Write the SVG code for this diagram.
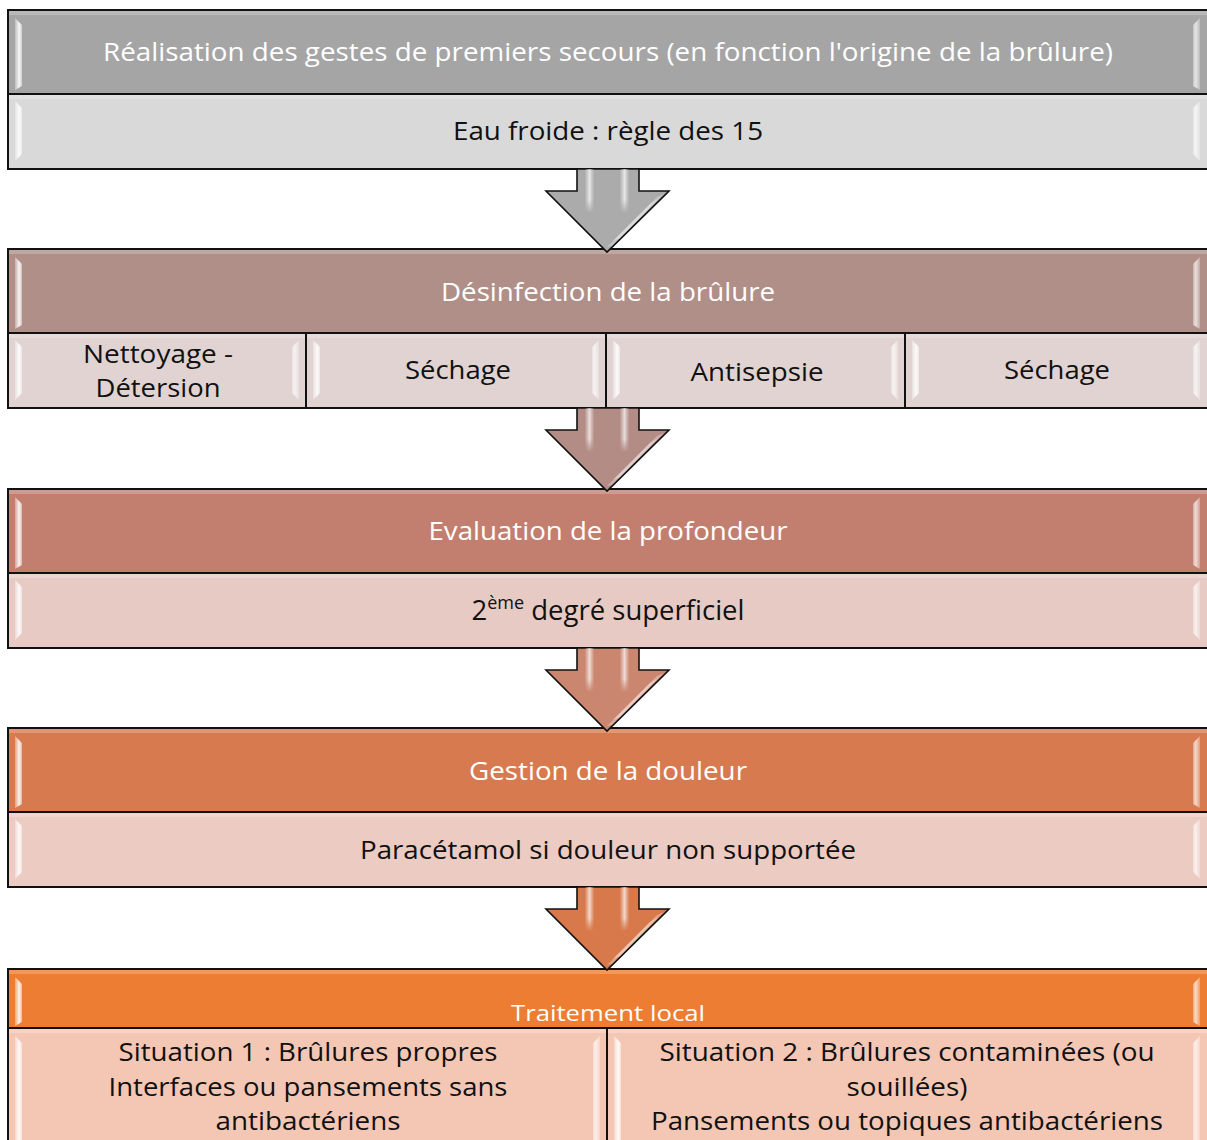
<svg xmlns="http://www.w3.org/2000/svg" xmlns:xlink="http://www.w3.org/1999/xlink" width="1207" height="1140" viewBox="0 0 1207 1140">
<style>
  text { font-family: "Open Sans", "Noto Sans", "DejaVu Sans", sans-serif; text-anchor: middle; }
  .hd { fill: #ffffff; font-size: 25px; }
  .sb { fill: #111111; font-size: 25px; }
  .box { stroke: #111111; stroke-width: 2; }
  .arrow { stroke: #111111; stroke-width: 1.6; stroke-linejoin: miter; }
  .hl { fill: url(#bevL); }
  .hr { fill: url(#bevR); opacity: 0.8; }
  .top { fill: #ffffff; opacity: 0.22; }
</style>
<defs>
  <linearGradient id="bevL" x1="0" y1="0" x2="1" y2="0">
    <stop offset="0" stop-color="#ffffff" stop-opacity="0.3"/>
    <stop offset="0.6" stop-color="#ffffff" stop-opacity="0.9"/>
    <stop offset="1" stop-color="#ffffff" stop-opacity="0.45"/>
  </linearGradient>
  <linearGradient id="bevR" x1="1" y1="0" x2="0" y2="0">
    <stop offset="0" stop-color="#ffffff" stop-opacity="0.3"/>
    <stop offset="0.6" stop-color="#ffffff" stop-opacity="0.9"/>
    <stop offset="1" stop-color="#ffffff" stop-opacity="0.45"/>
  </linearGradient>
  <linearGradient id="stripe" x1="0" y1="0" x2="1" y2="0">
    <stop offset="0" stop-color="#ffffff" stop-opacity="0.05"/>
    <stop offset="0.5" stop-color="#ffffff" stop-opacity="0.7"/>
    <stop offset="1" stop-color="#ffffff" stop-opacity="0.05"/>
  </linearGradient>
  <linearGradient id="stripeV" x1="0" y1="0" x2="0" y2="1">
    <stop offset="0" stop-color="#ffffff" stop-opacity="1"/>
    <stop offset="0.7" stop-color="#ffffff" stop-opacity="1"/>
    <stop offset="1" stop-color="#ffffff" stop-opacity="0"/>
  </linearGradient>
  <mask id="fadeMask">
    <rect x="0" y="0" width="1207" height="44" fill="url(#stripeV)"/>
  </mask>
  <g id="arr">
    <path class="arrow" d="M577,0 V22 H546 L607,83 L669,22 H639 V0 Z"/>
    <g mask="url(#fadeMask)">
      <rect x="585" y="0" width="9" height="44" fill="url(#stripe)"/>
      <rect x="620" y="0" width="9" height="44" fill="url(#stripe)"/>
    </g>
    <path d="M657,28 L664,25 L612,77 L607,78 Z" fill="#ffffff" opacity="0.3"/>
    <path d="M650,35 L658,30 L620,69 L613,72 Z" fill="#ffffff" opacity="0.4"/>
  </g>
</defs>

<!-- Stage 1 -->
<g id="stage1">
  <g id="s1-header">
    <rect class="box" x="8" y="10" width="1210" height="84" fill="#a5a5a5"/>
    <rect class="top" x="9" y="11" width="1208" height="4"/>
    <path class="hl" d="M15,18 L22,25 L22,86 L15,90 Z"/>
    <path class="hr" d="M1200,18 L1193,25 L1193,86 L1200,90 Z"/>
    <text class="hd" x="608" y="61" textLength="1010" lengthAdjust="spacingAndGlyphs">Réalisation des gestes de premiers secours (en fonction l'origine de la brûlure)</text>
  </g>
  <g id="s1-sub">
    <rect class="box" x="8" y="94" width="1210" height="75" fill="#d9d9d9"/>
    <rect class="top" x="9" y="95" width="1208" height="4"/>
    <path class="hl" d="M15,101 L22,108 L22,154 L15,161 Z"/>
    <path class="hr" d="M1200,101 L1193,108 L1193,154 L1200,161 Z"/>
    <text class="sb" x="608" y="140" textLength="310" lengthAdjust="spacingAndGlyphs">Eau froide : règle des 15</text>
  </g>
</g>

<!-- Stage 2 -->
<g id="stage2">
  <g id="s2-header">
    <rect class="box" x="8" y="249" width="1210" height="84" fill="#b08f88"/>
    <rect class="top" x="9" y="250" width="1208" height="4"/>
    <path class="hl" d="M15,257 L22,264 L22,325 L15,329 Z"/>
    <path class="hr" d="M1200,257 L1193,264 L1193,325 L1200,329 Z"/>
    <text class="hd" x="608" y="301" textLength="334" lengthAdjust="spacingAndGlyphs">Désinfection de la brûlure</text>
  </g>
  <g id="s2-cell1">
    <rect class="box" x="8" y="333" width="298" height="75" fill="#e0d3d2"/>
    <rect class="top" x="9" y="334" width="296" height="4"/>
    <path class="hl" d="M15,340 L22,347 L22,393 L15,400 Z"/>
    <path class="hr" d="M299,340 L292,347 L292,393 L299,400 Z"/>
    <text class="sb" x="158" y="363" textLength="150" lengthAdjust="spacingAndGlyphs">Nettoyage -</text>
    <text class="sb" x="158" y="397" textLength="125" lengthAdjust="spacingAndGlyphs">Détersion</text>
  </g>
  <g id="s2-cell2">
    <rect class="box" x="306" y="333" width="300" height="75" fill="#e0d3d2"/>
    <rect class="top" x="307" y="334" width="298" height="4"/>
    <path class="hl" d="M313,340 L320,347 L320,393 L313,400 Z"/>
    <path class="hr" d="M599,340 L592,347 L592,393 L599,400 Z"/>
    <text class="sb" x="458" y="379" textLength="106" lengthAdjust="spacingAndGlyphs">Séchage</text>
  </g>
  <g id="s2-cell3">
    <rect class="box" x="606" y="333" width="299" height="75" fill="#e0d3d2"/>
    <rect class="top" x="607" y="334" width="297" height="4"/>
    <path class="hl" d="M613,340 L620,347 L620,393 L613,400 Z"/>
    <path class="hr" d="M898,340 L891,347 L891,393 L898,400 Z"/>
    <text class="sb" x="757" y="381" textLength="133" lengthAdjust="spacingAndGlyphs">Antisepsie</text>
  </g>
  <g id="s2-cell4">
    <rect class="box" x="905" y="333" width="313" height="75" fill="#e0d3d2"/>
    <rect class="top" x="906" y="334" width="311" height="4"/>
    <path class="hl" d="M912,340 L919,347 L919,393 L912,400 Z"/>
    <path class="hr" d="M1200,340 L1193,347 L1193,393 L1200,400 Z"/>
    <text class="sb" x="1057" y="379" textLength="106" lengthAdjust="spacingAndGlyphs">Séchage</text>
  </g>
</g>

<!-- Stage 3 -->
<g id="stage3">
  <g id="s3-header">
    <rect class="box" x="8" y="489" width="1210" height="84" fill="#c27f6f"/>
    <rect class="top" x="9" y="490" width="1208" height="4"/>
    <path class="hl" d="M15,497 L22,504 L22,565 L15,569 Z"/>
    <path class="hr" d="M1200,497 L1193,504 L1193,565 L1200,569 Z"/>
    <text class="hd" x="608" y="540" textLength="359" lengthAdjust="spacingAndGlyphs">Evaluation de la profondeur</text>
  </g>
  <g id="s3-sub">
    <rect class="box" x="8" y="573" width="1210" height="75" fill="#e8cac5"/>
    <rect class="top" x="9" y="574" width="1208" height="4"/>
    <path class="hl" d="M15,580 L22,587 L22,633 L15,640 Z"/>
    <path class="hr" d="M1200,580 L1193,587 L1193,633 L1200,640 Z"/>
    <text class="sb" x="608" y="620" style="font-size:27.5px">2<tspan style="font-size:18px" dy="-11">ème</tspan><tspan dy="11"> degré superficiel</tspan></text>
  </g>
</g>

<!-- Stage 4 -->
<g id="stage4">
  <g id="s4-header">
    <rect class="box" x="8" y="728" width="1210" height="84" fill="#d77a4f"/>
    <rect class="top" x="9" y="729" width="1208" height="4"/>
    <path class="hl" d="M15,736 L22,743 L22,804 L15,808 Z"/>
    <path class="hr" d="M1200,736 L1193,743 L1193,804 L1200,808 Z"/>
    <text class="hd" x="608" y="780" textLength="278" lengthAdjust="spacingAndGlyphs">Gestion de la douleur</text>
  </g>
  <g id="s4-sub">
    <rect class="box" x="8" y="812" width="1210" height="75" fill="#ebcbc2"/>
    <rect class="top" x="9" y="813" width="1208" height="4"/>
    <path class="hl" d="M15,819 L22,826 L22,872 L15,879 Z"/>
    <path class="hr" d="M1200,819 L1193,826 L1193,872 L1200,879 Z"/>
    <text class="sb" x="608" y="859" textLength="496" lengthAdjust="spacingAndGlyphs">Paracétamol si douleur non supportée</text>
  </g>
</g>

<!-- Stage 5 -->
<g id="stage5">
  <g id="s5-header">
    <rect class="box" x="8" y="969" width="1210" height="59" fill="#ec7d32"/>
    <rect class="top" x="9" y="970" width="1208" height="4"/>
    <path class="hl" d="M15,977 L22,984 L22,1022 L15,1026 Z"/>
    <path class="hr" d="M1200,977 L1193,984 L1193,1022 L1200,1026 Z"/>
    <text class="hd" x="608" y="1021" style="font-size:22px" textLength="194" lengthAdjust="spacingAndGlyphs">Traitement local</text>
  </g>
  <g id="s5-cell1">
    <rect class="box" x="8" y="1028" width="599" height="130" fill="#f4c7b5"/>
    <rect class="top" x="9" y="1029" width="597" height="4"/>
    <path class="hl" d="M15,1036 L22,1043 L22,1140 L15,1140 Z"/>
    <path class="hr" d="M600,1036 L593,1043 L593,1140 L600,1140 Z"/>
    <text class="sb" x="308" y="1061" textLength="379" lengthAdjust="spacingAndGlyphs">Situation 1 : Brûlures propres</text>
    <text class="sb" x="308" y="1096" textLength="399" lengthAdjust="spacingAndGlyphs">Interfaces ou pansements sans</text>
    <text class="sb" x="308" y="1130" textLength="185" lengthAdjust="spacingAndGlyphs">antibactériens</text>
  </g>
  <g id="s5-cell2">
    <rect class="box" x="607" y="1028" width="611" height="130" fill="#f4c7b5"/>
    <rect class="top" x="608" y="1029" width="609" height="4"/>
    <path class="hl" d="M614,1036 L621,1043 L621,1140 L614,1140 Z"/>
    <path class="hr" d="M1200,1036 L1193,1043 L1193,1140 L1200,1140 Z"/>
    <text class="sb" x="907" y="1061" textLength="495" lengthAdjust="spacingAndGlyphs">Situation 2 : Brûlures contaminées (ou</text>
    <text class="sb" x="907" y="1096" textLength="121" lengthAdjust="spacingAndGlyphs">souillées)</text>
    <text class="sb" x="907" y="1130" textLength="512" lengthAdjust="spacingAndGlyphs">Pansements ou topiques antibactériens</text>
  </g>
</g>

<!-- Connectors -->
<g id="connectors">
  <use xlink:href="#arr" href="#arr" transform="translate(0,169)" fill="#ababab"/>
  <use xlink:href="#arr" href="#arr" transform="translate(0,408)" fill="#b48c86"/>
  <use xlink:href="#arr" href="#arr" transform="translate(0,648)" fill="#cb8670"/>
  <use xlink:href="#arr" href="#arr" transform="translate(0,887)" fill="#d8794c"/>
</g>
</svg>
